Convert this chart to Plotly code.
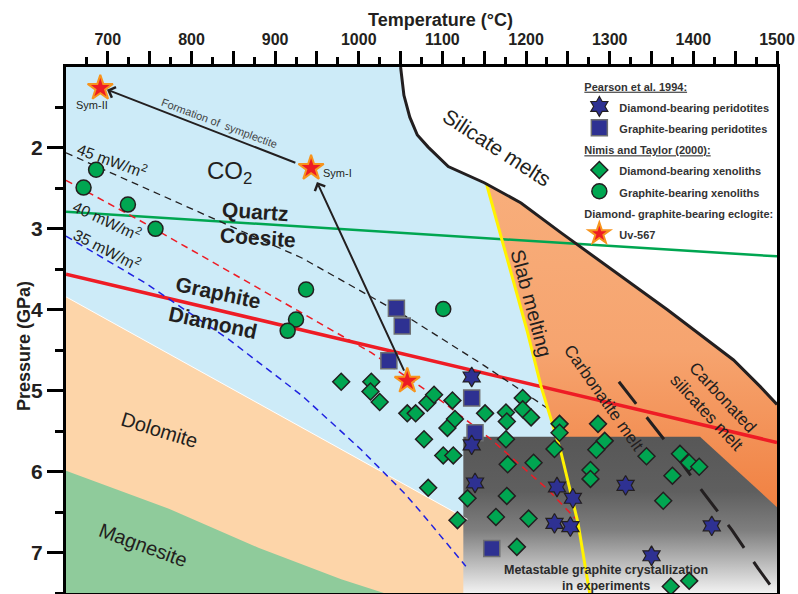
import plotly.graph_objects as go

FONT = "Liberation Sans, Arial, sans-serif"
DARK = "#231F20"

# ---------------- data ----------------
# Pearson et al. 1994
dia_perid_T = [1135, 1135, 1139, 1237, 1256, 1234, 1253, 1319, 1422, 1350]
dia_perid_P = [4.83, 5.67, 6.14, 6.19, 6.33, 6.64, 6.68, 6.17, 6.67, 7.04]
gra_perid_T = [1045, 1052, 1036, 1135, 1139, 1159]
gra_perid_P = [3.98, 4.20, 4.63, 5.09, 5.52, 6.95]
# Nimis and Taylor (2000)
dia_xeno_T = [979, 1015, 1014, 1025, 1058, 1068, 1082, 1090, 1112, 1106,
              1115, 1078, 1151, 1176, 1177, 1196, 1196, 1206, 1176, 1240,
              1240, 1234, 1286, 1294, 1284, 1101, 1113, 1178, 1209, 1277,
              1277, 1344, 1384, 1395, 1407, 1375, 1364, 1083, 1130, 1177,
              1164, 1203, 1118, 1189, 1373, 1395]
dia_xeno_P = [4.89, 4.89, 5.01, 5.14, 5.28, 5.28, 5.15, 5.05, 5.12, 5.46,
              5.35, 5.60, 5.28, 5.27, 5.38, 5.09, 5.23, 5.33, 5.60, 5.41,
              5.52, 5.72, 5.41, 5.62, 5.73, 5.80, 5.80, 5.91, 5.89, 5.98,
              6.09, 5.81, 5.78, 5.89, 5.94, 6.05, 6.36, 6.20, 6.33, 6.30,
              6.56, 6.58, 6.60, 6.93, 7.42, 7.35]
gra_xeno_T = [686, 671, 724, 757, 937, 925, 915, 1101]
gra_xeno_P = [2.27, 2.49, 2.70, 3.00, 3.75, 4.12, 4.26, 3.99]
# Eclogite Uv-567 (Sym-II, Sym-I, Uv-567)
eclo_T = [691, 943, 1058]
eclo_P = [1.26, 2.25, 4.88]

# phase boundaries / curves
qc_T, qc_P = [650, 1500], [2.79, 3.34]              # quartz-coesite
gd_T, gd_P = [650, 1500], [3.56, 5.64]              # graphite-diamond
g45_T = [650, 800, 932, 1063, 1150, 1226]
g45_P = [2.06, 2.75, 3.36, 4.12, 4.69, 5.22]
g40_T = [650, 737, 932, 1015, 1102, 1158, 1226, 1259]
g40_P = [2.40, 2.89, 4.04, 4.53, 5.15, 5.60, 6.22, 6.58]
g35_T = [650, 745, 845, 932, 1003, 1054, 1075, 1128]
g35_P = [3.09, 3.67, 4.37, 5.06, 5.73, 6.26, 6.51, 7.17]
slab_T = [1153, 1178, 1201, 1218, 1241, 1262, 1276]
slab_P = [2.457, 3.38, 4.25, 4.95, 5.73, 6.63, 7.5]
sol_T = [1050, 1054, 1061, 1070, 1083, 1107, 1150, 1194, 1242, 1369, 1448, 1480, 1500]
sol_P = [1.0, 1.35, 1.62, 1.84, 1.99, 2.23, 2.43, 2.68, 3.05, 4.00, 4.62, 4.95, 5.17]
carb_T = [1311, 1367, 1412, 1446, 1477, 1498]
carb_P = [4.89, 5.63, 6.26, 6.72, 7.19, 7.49]
dol_T, dol_P = [650, 1130], [3.84, 6.59]
mag_T = [650, 773, 880, 979, 1030]
mag_P = [5.99, 6.46, 6.94, 7.33, 7.5]
meta_T = [1125, 1408, 1500, 1500, 1125]
meta_P = [5.57, 5.57, 6.44, 7.5, 7.5]

TMIN, TMAX, PMIN, PMAX = 650, 1500, 1.0, 7.5

fig = go.Figure()

def region(xs, ys, color=None, grad=None):
    kw = dict(x=xs, y=ys, mode="lines", fill="toself", line=dict(width=0),
              hoverinfo="skip", showlegend=False)
    if grad:
        kw["fillgradient"] = grad
        kw["fillcolor"] = grad["colorscale"][0][1]
    else:
        kw["fillcolor"] = color
    fig.add_trace(go.Scatter(**kw))

# silicate melts (white)
region(sol_T + [TMAX], sol_P + [PMIN], "#FFFFFF")
# orange carbonatite / carbonated silicate melts
i0 = sol_T.index(1150)
orng_T = slab_T + [TMAX] + sol_T[i0:][::-1]
orng_P = slab_P + [PMAX] + sol_P[i0:][::-1]
region(orng_T, orng_P, grad=dict(type="vertical", start=2.4, stop=6.6,
       colorscale=[[0, "#F8AE7B"], [0.5, "#F6A46F"], [1, "#F07E3E"]]))
# dolomite
region(dol_T + [dol_T[-1], TMIN], dol_P + [PMAX, PMAX], "#FDD5A9")
# magnesite
region(mag_T + [TMIN], mag_P + [PMAX], "#8FCB9B")
# metastable graphite crystallization (grey)
region(meta_T, meta_P, grad=dict(type="vertical", start=5.57, stop=7.5,
       colorscale=[[0, "#575757"], [0.35, "#5f5f5f"], [0.6, "#7f7f7f"],
                   [0.8, "#b8b8b8"], [1, "#f2f2f2"]]))

def line(xs, ys, color, width, dash=None):
    fig.add_trace(go.Scatter(x=xs, y=ys, mode="lines",
                             line=dict(color=color, width=width, dash=dash),
                             hoverinfo="skip", showlegend=False))

line(dol_T, dol_P, "#FFFFFF", 1)
line(qc_T, qc_P, "#00A651", 2.5)
line(gd_T, gd_P, "#EE1C25", 3.5)
line(g45_T, g45_P, "#231F20", 1.3, "7px,5px")
line(g40_T, g40_P, "#EE1C25", 1.5, "7px,5px")
line(g35_T, g35_P, "#1F22E0", 1.5, "7px,5px")
line(slab_T, slab_P, "#FFF200", 3)
line(sol_T, sol_P, "#231F20", 3)
line(carb_T, carb_P, "#231F20", 3, "28px,17px")

def lg(s):
    return '<span style="font-size:11px">' + s + '</span>'

# markers
fig.add_trace(go.Scatter(x=dia_xeno_T, y=dia_xeno_P, mode="markers",
    name=lg("Diamond-bearing xenoliths"), legendgroup="nt", legendrank=3,
    legendgrouptitle=dict(text=lg("<u>Nimis and Taylor (2000):</u>")),
    marker=dict(symbol="diamond", size=13, color="#00A651",
                line=dict(color="#231F20", width=1.5))))
fig.add_trace(go.Scatter(x=gra_xeno_T, y=gra_xeno_P, mode="markers",
    name=lg("Graphite-bearing xenoliths"), legendgroup="nt", legendrank=4,
    marker=dict(symbol="circle", size=15, color="#00A651",
                line=dict(color="#231F20", width=1.5))))
fig.add_trace(go.Scatter(x=gra_perid_T, y=gra_perid_P, mode="markers",
    name=lg("Graphite-bearing peridotites"), legendgroup="pe", legendrank=2,
    marker=dict(symbol="square", size=16, color="#2E3192",
                line=dict(color="#6d6e71", width=1.5))))
fig.add_trace(go.Scatter(x=dia_perid_T, y=dia_perid_P, mode="markers",
    name=lg("Diamond-bearing peridotites"), legendgroup="pe", legendrank=1,
    legendgrouptitle=dict(text=lg("<u>Pearson et al. 1994:</u>")),
    marker=dict(symbol="hexagram", size=15, color="#2E3192",
                line=dict(color="#231F20", width=1.2))))
fig.add_trace(go.Scatter(x=eclo_T, y=eclo_P, mode="markers",
    name=lg("Uv-567"), legendgroup="ec", legendrank=5,
    legendgrouptitle=dict(text=lg("Diamond- graphite-bearing eclogite:")),
    marker=dict(symbol="star", size=19, color="#ED1C24",
                line=dict(color="#F7941D", width=2))))

ann = []
def txt(x, y, s, size, angle=0, bold=False, color=DARK, xref="x", yref="y"):
    ann.append(dict(x=x, y=y, xref=xref, yref=yref, text=s, showarrow=False,
                    textangle=angle, xanchor="center", yanchor="middle",
                    font=dict(family=FONT, size=size, color=color,
                              weight="bold" if bold else "normal")))

txt(846, 2.30, "CO<sub>2</sub>", 24)
txt(876, 2.79, "Quartz", 21, 4, True)
txt(880, 3.11, "Coesite", 21, 4, True)
txt(832, 3.79, "Graphite", 21, 12, True)
txt(826, 4.16, "Diamond", 21, 12, True)
txt(1165, 2.00, "Silicate melts", 21, 33)
txt(1206, 3.92, "Slab melting", 20, 75)
txt(1292, 5.09, "Carbonatite melt", 17, 55)
txt(1426, 5.18, "Carbonated<br>silicates melt", 17, 47)
txt(762, 5.49, "Dolomite", 20, 17)
txt(742, 6.91, "Magnesite", 20, 20)
txt(1296, 7.31, "Metastable graphite crystallization<br>in experiments", 12.5, 0, True, "#2b2b2b")
txt(681, 1.47, "Sym-II", 11)
txt(975, 2.31, "Sym-I", 11)
txt(705, 2.15, "45 mW/m<sup>2</sup>", 15.5, 20)
txt(699, 2.89, "40 mW/m<sup>2</sup>", 15.5, 25)
txt(699, 3.25, "35 mW/m<sup>2</sup>", 15.5, 27)
txt(833, 1.69, "Formation of  symplectite", 11, 20.5, False, "#444444")

# axis titles
txt(0.527, 1.089, "Temperature (°C)", 18, 0, True, DARK, "paper", "paper")
txt(-0.060, 0.47, "Pressure (GPa)", 18, -90, True, DARK, "paper", "paper")

# arrows
for (hx, hy, tx, ty) in [(950, 2.42, 1055, 4.77), (699, 1.28, 926, 2.19)]:
    ann.append(dict(x=hx, y=hy, ax=tx, ay=ty, xref="x", yref="y",
                    axref="x", ayref="y", text="", showarrow=True,
                    arrowhead=4, arrowsize=1.1, arrowwidth=2,
                    arrowcolor="#231F20", standoff=0, startstandoff=0))

x_ticks = list(range(700, 1501, 50))
x_labels = [str(v) if v % 100 == 0 else "" for v in x_ticks]

fig.update_layout(
    width=798, height=594,
    margin=dict(l=66, r=21, t=67, b=1, pad=0),
    paper_bgcolor="#FFFFFF", plot_bgcolor="#CDEBF8",
    annotations=ann,
    legend=dict(x=0.722, y=0.995, xanchor="left", yanchor="top",
                bgcolor="rgba(0,0,0,0)", tracegroupgap=0,
                traceorder="grouped", itemwidth=30,
                font=dict(family=FONT, size=14, color="#333333", weight="bold"),
                grouptitlefont=dict(family=FONT, size=14, color="#333333", weight="bold")),
    xaxis=dict(range=[TMIN, TMAX], side="top", tickvals=x_ticks, ticktext=x_labels,
               ticks="outside", ticklen=13, tickwidth=3, tickcolor="#000",
               showline=True, linewidth=3, linecolor="#000", mirror=True,
               showgrid=False, zeroline=False, automargin=False,
               tickfont=dict(family=FONT, size=16, color=DARK, weight="bold"),
               minor=dict(tickvals=list(range(675, 1500, 50)), ticks="outside",
                          ticklen=7, tickwidth=3, tickcolor="#000", showgrid=False)),
    yaxis=dict(range=[PMAX, PMIN], tickvals=[2, 3, 4, 5, 6, 7],
               ticks="outside", ticklen=16, tickwidth=3, tickcolor="#000",
               showline=True, linewidth=3, linecolor="#000", mirror=True,
               showgrid=False, zeroline=False, automargin=False,
               tickfont=dict(family=FONT, size=21, color=DARK, weight="bold"),
               minor=dict(tickvals=[1.5, 2.5, 3.5, 4.5, 5.5, 6.5, 7.5],
                          ticks="outside", ticklen=8, tickwidth=3,
                          tickcolor="#000", showgrid=False)),
)

fig.write_html("out.html", config={"displayModeBar": False},
               post_script="document.body.style.margin='0px';document.body.style.overflow='hidden';")
